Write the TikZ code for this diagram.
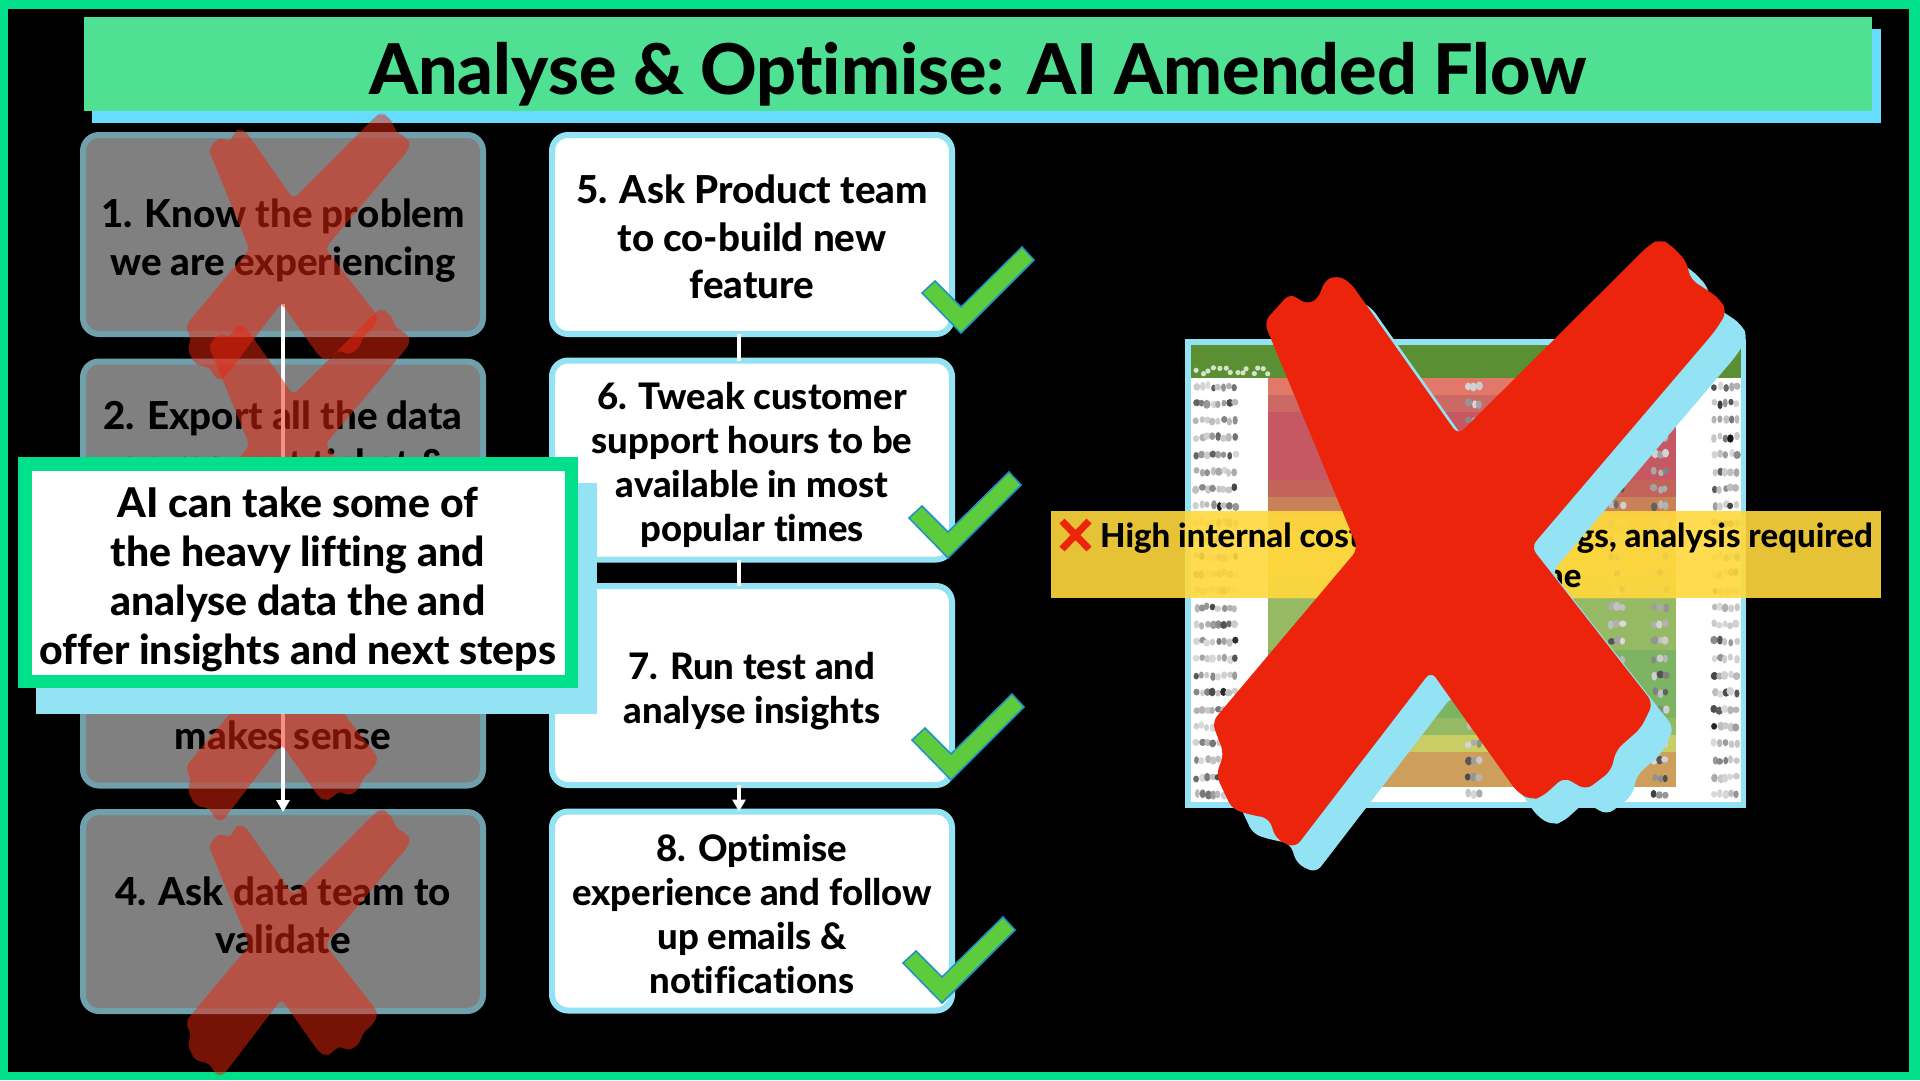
\documentclass[tikz,border=0pt]{standalone}
\usepackage{fontspec}
\setmainfont{Lato}[BoldFont={Lato Heavy},Ligatures=NoCommon]
\usetikzlibrary{arrows.meta}
\definecolor{framegreen}{RGB}{0, 224, 138}
\definecolor{titlegreen}{RGB}{79, 224, 147}
\definecolor{titleblue}{RGB}{102, 221, 255}
\definecolor{paleblue}{RGB}{147, 227, 245}
\definecolor{dimblue}{RGB}{111, 160, 172}
\definecolor{crossred}{RGB}{236, 36, 12}
\definecolor{tickgreen}{RGB}{93, 203, 60}
\definecolor{tickblue}{RGB}{30, 144, 200}
\definecolor{bandyellow}{RGB}{255, 216, 60}
\definecolor{heatgreen}{RGB}{91, 143, 51}
\definecolor{heatA}{RGB}{226, 120, 105}
\definecolor{heatB}{RGB}{205, 105, 100}
\definecolor{heatC}{RGB}{198, 88, 100}
\definecolor{heatD}{RGB}{195, 100, 90}
\definecolor{heatE}{RGB}{200, 130, 90}
\definecolor{heatF}{RGB}{205, 158, 92}
\definecolor{heatG}{RGB}{210, 190, 90}
\definecolor{heatH}{RGB}{175, 190, 100}
\definecolor{heatI}{RGB}{150, 185, 100}
\definecolor{heatJ}{RGB}{125, 180, 100}
\definecolor{heatK}{RGB}{200, 205, 100}
\tikzset{
  flowbox/.style={rounded corners=16pt, line width=6pt, minimum width=400pt,
    minimum height=199pt, inner sep=0pt, outer sep=0pt},
  grayflow/.style={flowbox, draw=dimblue, fill=gray},
  whiteflow/.style={flowbox, draw=paleblue, fill=white},
  flowtext/.style={inner sep=0pt, align=center, text=black},
  graytext/.style={flowtext, font=\bfseries\fontsize{38.5}{48}\selectfont},
  whitetext/.style={flowtext, font=\bfseries\fontsize{36.5}{44}\selectfont},
  flowline/.style={white, line width=4.5pt},
  tickmark/.style={fill=tickgreen, draw=tickblue, line width=1.5pt},
  bandtext/.style={inner sep=0pt, text=black, font=\bfseries\fontsize{33}{40}\selectfont}
}
\newcommand{\crossoutline}{(-182,-231) -- (-156,-260) -- (-139,-248) -- (-126,-256) -- (-123,-271)
  -- (-110,-278) -- (-96,-271) -- (12,-118) -- (203,-308) -- (214,-314) -- (225,-308) -- (241,-291)
  -- (244,-274) -- (261,-263) -- (274,-254) -- (281,-241) -- (269,-222) -- (85,-6) -- (207,150)
  -- (195,175) -- (170,197) -- (165,218) -- (140,237) -- (118,224) -- (96,244) -- (85,247)
  -- (71,239) -- (-15,118) -- (-151,295) -- (-170,286) -- (-177,265) -- (-195,262) -- (-214,256)
  -- (-230,222) -- (-222,201) -- (-234,169) -- (-88,-4) -- cycle}
\begin{document}
\begin{tikzpicture}[x=1pt,y=-1pt]
  \useasboundingbox (0,0) rectangle (1920,1080);
  \fill[framegreen] (0,0) rectangle (1920,1080);
  \fill[black] (7.5,9) rectangle (1909,1072);

  % title
  \fill[titleblue] (92,29) rectangle (1881,123);
  \node[fill=titlegreen, minimum width=1788pt, minimum height=94pt, inner sep=0pt] (title) at (978,64) {};
  \node[flowtext, font=\bfseries\fontsize{70}{70}\selectfont] (titletext) at (978,74) {Analyse \& Optimise: AI Amended Flow};

  % old steps
  \node[grayflow] (know) at (283,234.5) {};
  \node[grayflow] (export) at (283,461) {};
  \node[grayflow] (sense) at (283,686) {};
  \node[grayflow] (ask) at (283,911.5) {};
  \node[graytext] (knowtext) at (283,241) {1. Know the problem\\we are experiencing};
  \node[graytext] (exporttext) at (283,442) {2. Export all the data\\on request ticket \&};
  \node[graytext] (sensetext) at (283,735) {makes sense};
  \node[graytext] (asktext) at (283,915) {4. Ask data team to\\validate};
  \coordinate (linestart) at (283,304);
  \draw[flowline, -{Triangle[width=13pt,length=12pt]}] (linestart) -- (ask.north);

  \foreach \cy in {251,447,692,947}{
    \begin{scope}[shift={(288,\cy)},x=0.437pt,y=-0.44pt]
      \fill[crossred, opacity=0.5, rounded corners=5pt] \crossoutline;
    \end{scope}
  }

  % new steps
  \node[whiteflow] (product) at (752,234.5) {};
  \node[whiteflow] (tweak) at (752,460) {};
  \node[whiteflow] (test) at (752,685.5) {};
  \node[whiteflow] (optimise) at (752,911) {};
  \node[flowtext, font=\bfseries\fontsize{38.5}{47.5}\selectfont] (producttext) at (752,237) {5. Ask Product team\\to co-build new\\feature};
  \node[whitetext] (tweaktext) at (752,465) {6. Tweak customer\\support hours to be\\available in most\\popular times};
  \node[whitetext] (testtext) at (752,691) {7. Run test and\\analyse insights};
  \node[whitetext] (optimisetext) at (752,914) {8. Optimise\\experience and follow\\up emails \&\\notifications};
  \draw[flowline] ([xshift=-13pt]product.south) -- ([xshift=-13pt]tweak.north);
  \draw[flowline] ([xshift=-13pt]tweak.south) -- ([xshift=-13pt]test.north);
  \draw[flowline, -{Triangle[width=13pt,length=12pt]}] ([xshift=-13pt]test.south) -- ([xshift=-13pt]optimise.north);

  \foreach \tx/\ty in {961/333,948/558,951/780,942/1003}{
    \draw[tickmark, shift={(\tx,\ty)}] (0,0) -- (-39,-40) -- (-26,-52) -- (0,-26) -- (61,-86) -- (73,-73) -- cycle;
  }

  % popup
  \fill[paleblue] (36,483) rectangle (597,714);
  \node[draw=framegreen, fill=white, line width=13.5pt, minimum width=546.5pt, minimum height=217.5pt,
    inner sep=0pt, outer sep=0pt] (popup) at (298,572.5) {};
  \node[flowtext, font=\bfseries\fontsize{41}{49}\selectfont] (popuptext) at (298,579.5) {AI can take some of\\the heavy lifting and\\analyse data the and\\offer insights and next steps};

  % blurred table
  \fill[paleblue] (1185,339) rectangle (1746,808);
  \fill[white] (1191,345) rectangle (1741,802);
  \fill[heatgreen] (1191,345) rectangle (1741,378);
  \foreach \rowcol [count=\r from 0] in {heatA,heatB,heatC,heatC,heatC,heatC,heatD,heatE,heatF,heatG,heatG,heatG,heatH,heatI,heatI,heatI,heatJ,heatJ,heatJ,heatJ,heatI,heatK,heatF,heatF}{
    \fill[\rowcol] (1268,378+17*\r) rectangle (1676,395.5+17*\r);
  }
  \pgfmathsetseed{7}
  \foreach \k in {1,...,14}{
    \fill[white!75!heatgreen] (1190+5.5*\k+rnd*4,367+rnd*7) circle (2.6pt);
  }
  \foreach \r in {0,...,24}{
    \foreach \colx/\n in {1190/8,1462/3,1605/3,1648/3,1708/5}{
      \foreach \k in {1,...,\n}{
        \pgfmathsetmacro{\dk}{int(15+80*rnd*rnd)}
        \fill[black!\dk] (\colx+5.5*\k+rnd*2,385+17*\r+rnd*3) ellipse (2.4+rnd*1.4 pt and 3.2+rnd*1.4 pt);
      }
    }
  }

  % band
  \fill[bandyellow, opacity=0.9] (1051,511) rectangle (1881,598);
  \draw[crossred, line width=7pt] (1062,521) -- (1089,549) (1089,521) -- (1062,549);
  \node[bandtext, anchor=west] (costtext) at (1100,538) {High internal cost};
  \node[bandtext, anchor=east] (reqtext) at (1873,538) {gs, analysis required};
  \node[bandtext, anchor=west] (netext) at (1545,579) {ne};

  % big cross
  \begin{scope}[shift={(1467,578)}]
    \fill[paleblue, rounded corners=8pt] \crossoutline;
  \end{scope}
  \begin{scope}[shift={(1446,553)}]
    \fill[crossred, rounded corners=8pt] \crossoutline;
  \end{scope}
\end{tikzpicture}
\end{document}
